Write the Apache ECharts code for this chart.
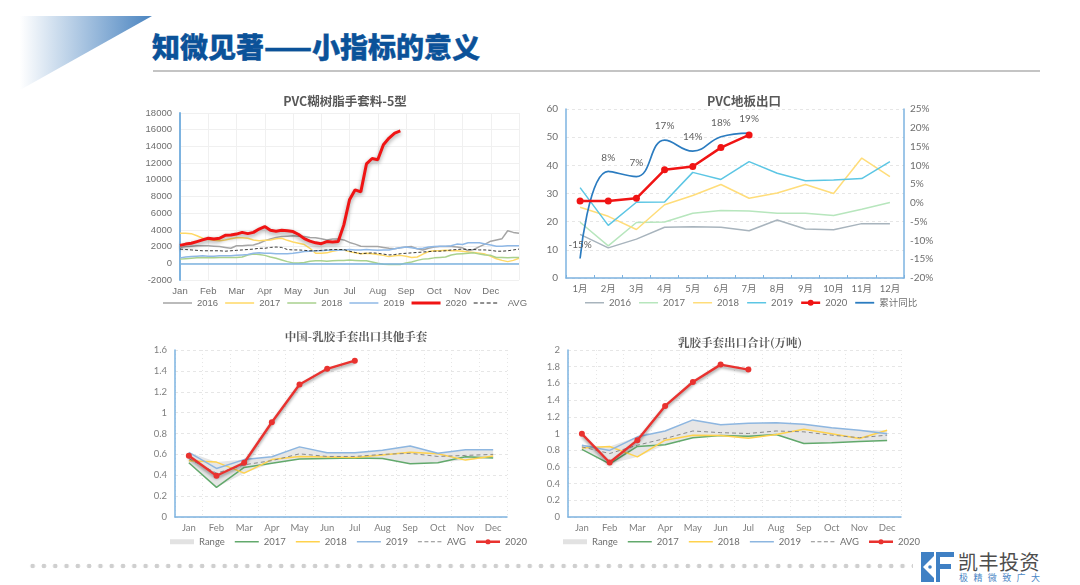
<!DOCTYPE html>
<html>
<head>
<meta charset="utf-8">
<title>知微见著</title>
<script src="https://cdn.jsdelivr.net/npm/echarts@6/dist/echarts.min.js"></script>
<style>
html,body{margin:0;padding:0;background:#fff;width:1080px;height:585px;overflow:hidden;font-family:"Noto Sans CJK SC",sans-serif}
.abs{position:absolute}
#tri{left:20px;top:16px;width:132px;height:74px;clip-path:polygon(0 0,100% 0,0 100%);background:linear-gradient(90deg,#ffffff 0%,#4a84c0 100%)}
#head{left:152px;top:26px;font-size:28px;line-height:40px;font-weight:900;color:#0b5299;white-space:nowrap;-webkit-text-stroke:0.4px #0b5299}
#rule{left:153px;top:70px;width:887px;height:2px;background:#c4c4c4}
#dots{left:27px;top:562px;width:886px;height:8px;background:radial-gradient(circle at 5.65px 4px,#cfcfcf 2px,transparent 2.6px) repeat-x;background-size:11.3px 8px}
#brand{left:958px;top:548px;font-size:20px;line-height:28px;color:#4d4d4d;letter-spacing:0.5px;white-space:nowrap}
#slogan{left:959px;top:572px;font-size:9px;line-height:12px;color:#4a86c5;letter-spacing:5.4px;white-space:nowrap}
#c1,#c2,#c3,#c4{position:absolute}
#c1{left:130px;top:85px;width:420px;height:230px}
#c2{left:530px;top:85px;width:410px;height:230px}
#c3{left:130px;top:320px;width:420px;height:230px}
#c4{left:530px;top:320px;width:420px;height:230px}
</style>
</head>
<body>
<div id="tri" class="abs"></div>
<div id="head" class="abs">知微见著——小指标的意义</div>
<div id="rule" class="abs"></div>
<div id="dots" class="abs"></div>
<svg class="abs" style="left:921px;top:552px" width="33" height="30" viewBox="0 0 33 30">
  <rect x="0" y="0" width="13" height="30" fill="#3f80c4"/>
  <polygon points="2,15 13,4 13,26" fill="#fff"/>
  <circle cx="9" cy="15" r="1.8" fill="#3f80c4"/>
  <rect x="15" y="0" width="4" height="30" fill="#3f80c4"/>
  <rect x="19" y="0" width="14" height="5" fill="#3f80c4"/>
  <rect x="19" y="12" width="11" height="5" fill="#3f80c4"/>
</svg>
<div id="brand" class="abs">凯丰投资</div>
<div id="slogan" class="abs">极精微致广大</div>
<div id="c1"></div>
<div id="c2"></div>
<div id="c3"></div>
<div id="c4"></div>
<script>
// 图1 PVC糊树脂手套料-5型 (约每月5个点)
var weekMonths = ['Jan','Feb','Mar','Apr','May','Jun','Jul','Aug','Sep','Oct','Nov','Dec'];
var pvc2016 = [1900,2000,2050,2100,2100,2100,2050,2000,1900,1800,2100,2100,2150,2200,2400,2700,2900,3100,3200,3250,3300,3250,3200,3100,3050,2950,2800,2900,2900,2800,2500,2300,2050,2000,2000,2000,1900,1800,1750,1850,1950,2000,1750,1600,1800,1950,2000,2000,2000,1950,1850,1500,1650,2000,2300,2650,2800,2950,3900,3700,3600];
var pvc2017 = [3600,3600,3550,3300,3000,2850,2750,2700,2800,2950,3050,3050,3000,2800,2700,2750,2800,2950,3000,2750,2550,2400,2250,1800,1200,1200,1250,1450,1550,1600,1400,1250,1150,1200,1150,1050,950,800,900,950,850,700,750,1100,1400,1500,1500,1550,1500,1500,1450,1350,1300,1200,1100,850,550,350,200,350,600];
var pvc2018 = [500,550,600,650,700,650,650,700,700,700,700,750,1000,1100,1050,950,750,600,400,200,50,50,100,250,300,300,250,300,350,350,400,350,300,300,150,0,-100,-150,-150,-150,50,150,350,500,550,650,700,750,1000,1100,1150,1200,1250,1100,1000,950,700,700,650,700,700];
var pvc2019 = [650,750,800,850,900,850,850,900,900,900,950,1000,1050,1200,1250,1200,1200,1150,1150,1150,1200,1300,1400,1450,1500,1500,1550,1550,1550,1600,1650,1600,1600,1650,1600,1550,1600,1600,1750,1850,1950,1850,1750,1800,1950,2000,2050,2050,2100,2300,2250,2450,2450,2450,2300,2200,2050,2050,2100,2100,2100];
var pvc2020 = [2150,2300,2400,2600,2800,3000,2900,3000,3350,3400,3500,3700,3550,3700,4100,4400,3950,3850,3950,3900,3800,3450,2950,2650,2450,2350,2600,2550,2600,4600,7600,8800,8550,11900,12550,12400,14200,15000,15600,15850];
var pvcAvg = [1700,1650,1600,1550,1500,1500,1500,1500,1450,1500,1550,1600,1650,1700,1800,1800,1900,1950,1900,1650,1600,1600,1550,1500,1500,1550,1600,1650,1650,1650,1450,1300,1150,1200,1250,1200,1100,1000,1050,1150,1200,1250,1300,1350,1400,1450,1450,1500,1600,1650,1700,1650,1650,1600,1600,1550,1450,1450,1500,1600,1700];

// 图2 PVC地板出口
var floorMonths = ['1月','2月','3月','4月','5月','6月','7月','8月','9月','10月','11月','12月'];
var floor2016 = [15.5,10.7,13.8,18,18.2,18,16.8,20.6,17.4,17.1,19.3,19.3];
var floor2017 = [19.8,11.4,19.7,19.9,23,24,23.8,23,23,22.2,24.4,26.8];
var floor2018 = [25.1,21.9,17.2,26,29.3,33.2,28.3,30.2,33.2,30,42.6,36];
var floor2019 = [32.1,18.7,26.9,27,37.5,35,41.3,37.2,34.5,34.8,35.3,41.3];
var floor2020 = [27.3,27.3,28.3,38.4,39.6,46.3,50.8];
var floorYoy = [-14.8,8.4,7,16.7,13.8,17.6,18.6];

// 图3 中国-乳胶手套出口其他手套
var gloveMonths = ['Jan','Feb','Mar','Apr','May','Jun','Jul','Aug','Sep','Oct','Nov','Dec'];
var other2017 = [0.52,0.284,0.475,0.516,0.555,0.56,0.565,0.56,0.51,0.52,0.577,0.565];
var other2018 = [0.54,0.526,0.42,0.55,0.58,0.575,0.57,0.595,0.62,0.605,0.545,0.585];
var other2019 = [0.62,0.465,0.55,0.577,0.672,0.615,0.615,0.64,0.68,0.61,0.645,0.645];
var otherAvg = [0.56,0.42,0.5,0.54,0.605,0.58,0.58,0.6,0.61,0.58,0.59,0.6];
var other2020 = [0.586,0.395,0.52,0.908,1.27,1.42,1.498];

// 图4 乳胶手套出口合计(万吨)
var total2017 = [0.81,0.637,0.845,0.865,0.948,0.976,0.968,0.988,0.88,0.89,0.905,0.916];
var total2018 = [0.825,0.845,0.72,0.92,0.98,0.976,0.944,0.988,1.05,0.996,0.94,1.04];
var total2019 = [0.86,0.797,0.96,1.03,1.163,1.104,1.124,1.13,1.11,1.07,1.04,0.996];
var totalAvg = [0.84,0.76,0.86,0.94,1.03,1.01,1,1.03,1.02,0.98,0.95,0.98];
var total2020 = [0.996,0.653,0.92,1.33,1.617,1.825,1.765];

var GRAY = '#6e6e6e';
var AXIS_BLUE = '#7db3e0';
var LATIN = 'Lato, "Noto Sans CJK SC", sans-serif';
var ICON_H = 8;

function lineSeries(name, data, color, width, extra){
    var s = {
        name : name,
        type : 'line',
        data : data,
        showSymbol : false,
        symbol : 'none',
        lineStyle : {color : color, width : width},
        itemStyle : {color : color},
        emphasis : {disabled : true},
        animation : false
    };
    for(var k in extra){ s[k] = extra[k]; }
    return s;
}

// 图例图标: 细线/虚线/带点的粗线
function box(w){ return 'M0 0h0M' + w + ' ' + ICON_H + 'h0'; }
function barPath(x, w, t){ return 'M' + x + ' ' + (ICON_H - t) / 2 + 'h' + w + 'v' + t + 'h-' + w + 'z'; }
function lineIcon(w, t){ return 'path://' + box(w) + barPath(0, w, t); }
function dashIcon(w, t){
    var p = box(w);
    for(var x = 0; x + 4 <= w; x += 6.5){ p += barPath(x, 4, t); }
    return 'path://' + p;
}
function dotIcon(w, t, r){
    return 'path://' + box(w) + barPath(0, w, t)
        + 'M' + w / 2 + ' ' + (ICON_H / 2 - r) + 'a' + r + ' ' + r + ' 0 1 1 0 ' + 2 * r + 'a' + r + ' ' + r + ' 0 1 1 0 -' + 2 * r + 'z';
}
function legendItems(names, w, t){
    var out = [];
    for(var i = 0; i < names.length; i++){
        out.push({name : names[i], icon : lineIcon(w, t)});
    }
    return out;
}

// 图1
function initPvc(){
    var myChart = echarts.init(document.getElementById('c1'));
    var cats = [];
    for(var i = 0; i < pvc2016.length; i++){
        cats.push(i % 5 == 0 && i / 5 < 12 ? weekMonths[i / 5] : '');
    }
    var red = lineSeries('2020', pvc2020, '#f01414', 3, {z : 5});
    red.lineStyle.shadowColor = 'rgba(0,0,0,0.4)';
    red.lineStyle.shadowBlur = 4;
    red.lineStyle.shadowOffsetY = 2;
    var gray = lineSeries('2016', pvc2016, '#a5a5a5', 1.5);
    gray.markLine = {
        silent : true, symbol : 'none', animation : false, label : {show : false},
        lineStyle : {color : AXIS_BLUE, type : 'solid', width : 1.5},
        data : [{yAxis : 0}]
    };
    var avg = lineSeries('AVG', pvcAvg, '#222222', 0.9, {z : 3});
    avg.lineStyle.type = [3, 2];
    var legendData = legendItems(['2016','2017','2018','2019'], 29, 1.5);
    legendData.push({name : '2020', icon : lineIcon(29, 3)});
    legendData.push({name : 'AVG', icon : dashIcon(29, 1)});
    myChart.setOption({
        animation : false,
        title : {
            text : 'PVC糊树脂手套料-5型', left : 210, textAlign : 'center', top : 5,
            textStyle : {fontSize : 12.5, fontWeight : 'bold', color : '#595959', fontFamily : '"Noto Sans CJK SC"'}
        },
        legend : {
            top : 213, left : 33, padding : 0, itemWidth : 29, itemHeight : ICON_H, itemGap : 7,
            textStyle : {fontSize : 9.5, color : GRAY, fontFamily : '"Liberation Sans"'},
            data : legendData
        },
        grid : {left : 50, right : 31, top : 28, bottom : 35},
        xAxis : {
            type : 'category', boundaryGap : false, data : cats,
            axisLine : {show : false}, axisTick : {show : false},
            axisLabel : {
                color : GRAY, fontSize : 9.5, fontFamily : '"Liberation Sans"', margin : 6,
                interval : function(i){ return i % 5 == 0; }
            },
            splitLine : {show : true, interval : function(i){ return i % 5 == 0; }, lineStyle : {color : '#f0f0f0', width : 1}}
        },
        yAxis : {
            type : 'value', min : -2000, max : 18000, interval : 2000,
            axisLine : {show : true, lineStyle : {color : AXIS_BLUE, width : 2}},
            axisTick : {show : false},
            axisLabel : {color : GRAY, fontSize : 9.5, fontFamily : '"Liberation Sans"', margin : 8,
                formatter : function(v){ return String(v); }},
            splitLine : {lineStyle : {color : '#f0f0f0', width : 1}}
        },
        series : [
            gray,
            lineSeries('2017', pvc2017, '#ffd966', 1.5),
            lineSeries('2018', pvc2018, '#a9d18e', 1.5),
            lineSeries('2019', pvc2019, '#8fb8e6', 1.5),
            avg,
            red
        ]
    });
}

// 图2
function initFloor(){
    var myChart = echarts.init(document.getElementById('c2'));
    var legendData = legendItems(['2016','2017','2018','2019'], 19, 1.5);
    legendData.push({name : '2020', icon : dotIcon(19, 2.4, 3)});
    legendData.push({name : '累计同比', icon : lineIcon(19, 1.8)});
    myChart.setOption({
        animation : false,
        title : {
            text : 'PVC地板出口', left : 209, textAlign : 'center', top : 5,
            textStyle : {fontSize : 12.5, fontWeight : 'bold', color : '#595959', fontFamily : '"Noto Sans CJK SC"'}
        },
        legend : {
            top : 213, left : 55, padding : 0, itemWidth : 19, itemHeight : ICON_H, itemGap : 8,
            textStyle : {fontSize : 9.5, color : GRAY, fontFamily : LATIN},
            data : legendData
        },
        grid : {left : 36, right : 36, top : 24, bottom : 37},
        xAxis : {
            type : 'category', data : floorMonths,
            axisLine : {lineStyle : {color : AXIS_BLUE, width : 1.5}},
            axisTick : {show : true, inside : true, length : 3, lineStyle : {color : AXIS_BLUE}},
            axisLabel : {color : GRAY, fontSize : 9.5, fontFamily : LATIN, margin : 6, interval : 0}
        },
        yAxis : [{
            type : 'value', min : 0, max : 60, interval : 10,
            axisLine : {show : true, lineStyle : {color : AXIS_BLUE, width : 1.5}},
            axisTick : {show : false},
            axisLabel : {color : GRAY, fontSize : 10, fontFamily : LATIN, margin : 8},
            splitLine : {lineStyle : {color : '#e6e6e6', type : [3, 3]}}
        },{
            type : 'value', min : -20, max : 25, interval : 5,
            axisLine : {show : true, lineStyle : {color : AXIS_BLUE, width : 1.5}},
            axisTick : {show : false},
            axisLabel : {color : GRAY, fontSize : 10, fontFamily : LATIN, margin : 6, formatter : '{value}%'},
            splitLine : {show : false}
        }],
        series : [
            lineSeries('2016', floor2016, '#a8b4bd', 1.5),
            lineSeries('2017', floor2017, '#b7e6bd', 1.5),
            lineSeries('2018', floor2018, '#ffdd7a', 1.5),
            lineSeries('2019', floor2019, '#5cc6e4', 1.5),
            lineSeries('2020', floor2020, '#f01414', 2.5, {
                showSymbol : true, symbol : 'circle', symbolSize : 7, z : 5
            }),
            lineSeries('累计同比', floorYoy, '#2b7cc0', 1.7, {
                yAxisIndex : 1, smooth : 0.45, z : 4,
                showSymbol : true, symbol : 'circle', symbolSize : 0,
                label : {
                    show : true, position : 'top', distance : 9, fontSize : 10, color : '#5f5f5f', fontFamily : LATIN,
                    formatter : function(p){ return Math.round(p.value) + '%'; }
                }
            })
        ]
    });
}

// 图3,图4 结构相同
function initGlove(domId, titleText, titleLeft, titleTop, yMax, legendLeft, gridLeft, gridRight, d2017, d2018, d2019, dAvg, d2020){
    var myChart = echarts.init(document.getElementById(domId));
    var base = [], band = [];
    for(var i = 0; i < d2017.length; i++){
        var lo = Math.min(d2017[i], d2018[i], d2019[i]);
        var hi = Math.max(d2017[i], d2018[i], d2019[i]);
        base.push(lo);
        band.push(+(hi - lo).toFixed(3));
    }
    var red = lineSeries('2020', d2020, '#e9322f', 2.4, {showSymbol : true, symbol : 'circle', symbolSize : 6, z : 6});
    red.lineStyle.shadowColor = 'rgba(0,0,0,0.4)';
    red.lineStyle.shadowBlur = 3;
    red.lineStyle.shadowOffsetY = 2;
    var avg = lineSeries('AVG', dAvg, '#8a8a8a', 1);
    avg.lineStyle.type = [4, 3];
    var legendData = [{name : 'Range', icon : lineIcon(24, 5)}].concat(legendItems(['2017','2018','2019'], 24, 1.5));
    legendData.push({name : 'AVG', icon : dashIcon(24, 1.2)});
    legendData.push({name : '2020', icon : dotIcon(24, 2.4, 2.6)});
    myChart.setOption({
        animation : false,
        title : {
            text : titleText, left : titleLeft, textAlign : 'center', top : titleTop,
            textStyle : {fontSize : 11.5, fontWeight : 'bold', color : '#595959', fontFamily : '"Noto Serif CJK SC","Noto Sans CJK SC"'}
        },
        legend : {
            top : 217, left : legendLeft, padding : 0, itemWidth : 24, itemHeight : ICON_H, itemGap : 10,
            textStyle : {fontSize : 9.5, color : GRAY, fontFamily : LATIN},
            data : legendData
        },
        grid : {left : gridLeft, right : gridRight, top : 30, bottom : 33},
        xAxis : {
            type : 'category', data : gloveMonths,
            axisLine : {lineStyle : {color : AXIS_BLUE, width : 1.5}},
            axisTick : {show : false},
            axisLabel : {color : '#7f7f7f', fontSize : 9.5, fontFamily : LATIN, margin : 6, interval : 0},
            splitLine : {show : true, lineStyle : {color : '#e6e6e6', type : [1, 3]}}
        },
        yAxis : {
            type : 'value', min : 0, max : yMax, interval : 0.2,
            axisLine : {show : true, lineStyle : {color : AXIS_BLUE, width : 1.5}},
            axisTick : {show : false},
            axisLabel : {color : '#7f7f7f', fontSize : 9.5, fontFamily : LATIN, margin : 8,
                formatter : function(v){ return String(+v.toFixed(1)); }},
            splitLine : {lineStyle : {color : '#e6e6e6', type : [3, 3]}}
        },
        series : [
            lineSeries('base', base, 'rgba(0,0,0,0)', 0, {stack : 'r'}),
            lineSeries('Range', band, 'rgba(0,0,0,0)', 0, {stack : 'r', areaStyle : {color : '#e6e6e6', opacity : 1}, itemStyle : {color : '#e2e2e2'}}),
            lineSeries('2017', d2017, '#62a96c', 1.5),
            lineSeries('2018', d2018, '#ffd24d', 1.5),
            lineSeries('2019', d2019, '#8db6e0', 1.5),
            avg,
            red
        ]
    });
}

initPvc();
initFloor();
initGlove('c3', '中国-乳胶手套出口其他手套', 221, 6, 1.6, 40, 45, 43, other2017, other2018, other2019, otherAvg, other2020);
initGlove('c4', '乳胶手套出口合计(万吨)', 205, 12, 2, 33, 38, 49, total2017, total2018, total2019, totalAvg, total2020);
</script>
</body>
</html>
